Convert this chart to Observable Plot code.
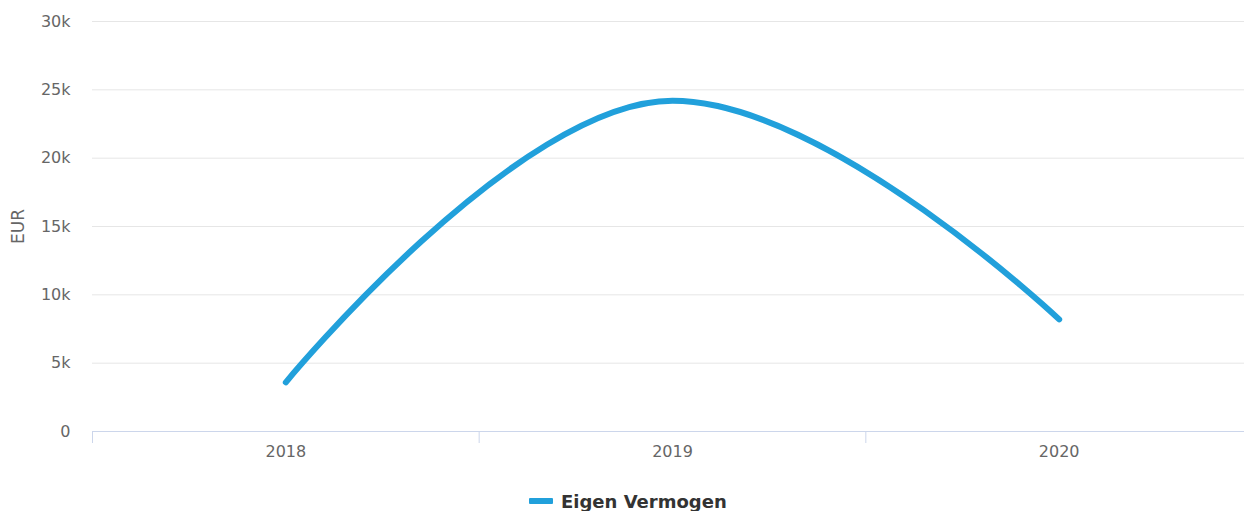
<!DOCTYPE html>
<html>
<head>
<meta charset="utf-8">
<script src="https://cdn.jsdelivr.net/npm/d3@7"></script>
<script src="https://cdn.jsdelivr.net/npm/@observablehq/plot@0.6"></script>
<style>
  html, body { margin: 0; padding: 0; background: #fff; }
  #wrap { position: relative; width: 1244px; height: 511px; font-family: "DejaVu Sans", sans-serif; }
  #legend { position: absolute; left: 529px; top: 490px; display: flex; align-items: center; height: 22px; }
  #legend .sym { width: 24px; height: 6px; background: #21a0db; border-radius: 1px; margin-right: 8px; }
  #legend .lab { font-weight: bold; font-size: 18px; color: #333333; }
</style>
</head>
<body>
<div id="wrap"><div id="chart"></div>
<div id="legend"><span class="sym"></span><span class="lab">Eigen Vermogen</span></div></div>
<script>
const years = [2018, 2019, 2020];
const values = [3600, 24200, 8200];
const seriesName = "Eigen Vermogen";
const yTicks = [0, 5000, 10000, 15000, 20000, 25000, 30000];
const bandEdges = [2017.5, 2018.5, 2019.5, 2020.5];

const data = years.map((y, i) => ({year: y, value: values[i]}));

// Highcharts-style spline curve (smoothing 1.5)
function HCSpline(context) { this._context = context; }
HCSpline.prototype = {
  areaStart() { this._area = true; },
  areaEnd() { this._area = false; },
  lineStart() { this._pts = []; },
  point(x, y) { this._pts.push([+x, +y]); },
  lineEnd() {
    const p = this._pts, c = this._context, n = p.length;
    if (!n) return;
    const s = 1.5, d = 2.5, rc = [];
    c.moveTo(p[0][0], p[0][1]);
    for (let i = 1; i < n; i++) {
      const [x, y] = p[i];
      let lcx = x, lcy = y;
      if (i < n - 1) {
        const [lx, ly] = p[i - 1], [nx, ny] = p[i + 1];
        lcx = (s * x + lx) / d; lcy = (s * y + ly) / d;
        let rcx = (s * x + nx) / d, rcy = (s * y + ny) / d;
        if (rcx !== lcx) {
          const corr = ((rcy - lcy) * (rcx - x)) / (rcx - lcx) + y - rcy;
          lcy += corr; rcy += corr;
          if (lcy > ly && lcy > y) { lcy = Math.max(ly, y); rcy = 2 * y - lcy; }
          else if (lcy < ly && lcy < y) { lcy = Math.min(ly, y); rcy = 2 * y - lcy; }
          if (rcy > ny && rcy > y) { rcy = Math.max(ny, y); lcy = 2 * y - rcy; }
          else if (rcy < ny && rcy < y) { rcy = Math.min(ny, y); lcy = 2 * y - rcy; }
        }
        rc[i] = [rcx, rcy];
      }
      const prev = rc[i - 1] || p[i - 1];
      c.bezierCurveTo(prev[0], prev[1], lcx, lcy, x, y);
    }
  }
};
const hcSpline = ctx => new HCSpline(ctx);

const chart = Plot.plot({
  width: 1244,
  height: 470,
  marginTop: 21,
  marginBottom: 39,
  marginLeft: 92,
  marginRight: 0,
  style: {fontFamily: "DejaVu Sans, sans-serif", fontSize: "16px", color: "#666666", background: "#ffffff", overflow: "visible"},
  x: {domain: [2017.5, 2020.5], range: [92, 1252], axis: null},
  y: {domain: [0, 30000], axis: null},
  marks: [
    Plot.gridY(yTicks.slice(1), {stroke: "#e6e6e6", strokeOpacity: 1, strokeWidth: 1}),
    Plot.axisY(yTicks, {tickSize: 0, tickPadding: 22, fontSize: 16, fill: "#666666",
      tickFormat: d => d === 0 ? "0" : (d / 1000) + "k", label: null}),
    Plot.axisX(bandEdges, {tickSize: 12, stroke: "#ccd6eb", strokeWidth: 1, text: null, label: null}),
    Plot.axisX(years, {tickSize: 0, tickPadding: 14, fontSize: 16, fill: "#666666", tickFormat: d => String(d), label: null}),
    Plot.ruleY([0], {stroke: "#ccd6eb", strokeWidth: 1}),
    Plot.text(["EUR"], {frameAnchor: "left", textAnchor: "middle", lineAnchor: "middle", dx: -74, rotate: -90, fontSize: 17, fill: "#666666"}),
    Plot.line(data, {x: "year", y: "value", stroke: "#21a0db", strokeWidth: 6, curve: hcSpline, strokeLinecap: "round", strokeLinejoin: "round"})
  ]
});
document.getElementById("chart").appendChild(chart);
</script>
</body>
</html>
